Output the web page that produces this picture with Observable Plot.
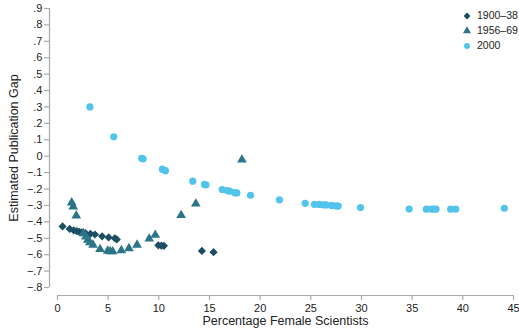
<!DOCTYPE html>
<html>
<head>
<meta charset="utf-8">
<script src="https://cdn.jsdelivr.net/npm/d3@7"></script>
<script src="https://cdn.jsdelivr.net/npm/@observablehq/plot@0.6"></script>
<style>
  html, body { margin: 0; padding: 0; background: #fff; }
  #wrap { position: relative; width: 519px; height: 333px; font-family: "Liberation Sans", Arial, sans-serif; overflow: hidden; }
  #legend { position: absolute; left: 462px; top: 8px; font-size: 10.5px; color: #222; line-height: 15px; white-space: nowrap; }
  #legend div { display: flex; align-items: center; height: 15px; }
  #legend svg { margin-right: 5px; flex: none; }
</style>
</head>
<body>
<div id="wrap"><div id="legend"></div></div>
<script>
// Series names
const seriesNames = ["1900–38", "1956–69", "2000"];

// 1900–38 (diamonds): [percentage female, estimated gap]
const s1900 = [
  [0.5,-0.428],[1.2,-0.443],[1.6,-0.452],[1.9,-0.457],[2.15,-0.461],[2.4,-0.464],
  [2.75,-0.468],[3.25,-0.473],[3.7,-0.477],[4.4,-0.488],[5.05,-0.495],[5.65,-0.5],
  [5.85,-0.507],[9.95,-0.543],[10.25,-0.545],[10.5,-0.546],[14.25,-0.577],[15.4,-0.585]
];

// 1956–69 (triangles)
const s1956 = [
  [1.4,-0.283],[1.55,-0.308],[1.85,-0.362],[2.55,-0.47],[2.8,-0.49],[3.0,-0.51],
  [3.2,-0.525],[3.5,-0.54],[4.2,-0.567],[4.95,-0.577],[5.2,-0.58],[5.45,-0.581],
  [6.3,-0.574],[7.05,-0.562],[7.85,-0.54],[9.05,-0.503],[9.65,-0.48],[12.2,-0.36],
  [13.65,-0.29],[18.2,-0.022]
];

// 2000 (circles)
const s2000 = [
  [3.2,0.30],[5.55,0.118],[8.3,-0.013],[8.45,-0.016],[10.35,-0.079],[10.65,-0.088],
  [13.35,-0.152],[14.5,-0.172],[14.65,-0.175],[16.25,-0.203],[16.75,-0.209],[17.0,-0.213],
  [17.5,-0.222],[17.7,-0.224],[19.05,-0.238],[21.9,-0.266],[24.45,-0.287],[25.35,-0.293],
  [25.85,-0.294],[26.25,-0.296],[26.5,-0.297],[27.05,-0.300],[27.5,-0.303],[27.7,-0.304],
  [29.9,-0.313],[34.7,-0.322],[36.4,-0.323],[36.9,-0.323],[37.15,-0.323],[37.35,-0.323],
  [38.8,-0.323],[39.3,-0.323],[44.1,-0.317]
];

// Tick values
const xTicks = [0,5,10,15,20,25,30,35,40,45];
const yTicks = [-0.8,-0.7,-0.6,-0.5,-0.4,-0.3,-0.2,-0.1,0,0.1,0.2,0.3,0.4,0.5,0.6,0.7,0.8,0.9];

const colors = ["#1d4f63", "#2b7588", "#52c4ec"];
const symbols = ["diamond2", "triangle", "circle"];
const radii = [3.7, 3.6, 3.6];

const yFmt = d => {
  if (Math.abs(d) < 1e-9) return "0";
  const s = d3.format(".1f")(d);
  return s.replace("0.", ".");
};

const toObj = (arr, i) => arr.map(([x, y]) => ({x, y, s: seriesNames[i]}));
const sets = [toObj(s1900, 0), toObj(s1956, 1), toObj(s2000, 2)];

const axisColor = "#aaaaaa";

const chart = Plot.plot({
  width: 519,
  height: 333,
  marginLeft: 57,
  marginRight: 6,
  marginTop: 8,
  marginBottom: 46,
  style: {fontFamily: "'Liberation Sans', Arial, sans-serif", fontSize: "11px", color: "#222", background: "#fff"},
  x: {domain: [0, 45]},
  y: {domain: [-0.8, 0.9]},
  marks: [
    Plot.ruleX([0], {y1: -0.8, y2: 0.9, dx: -8, stroke: axisColor, strokeWidth: 1.2}),
    Plot.ruleY([-0.8], {x1: 0, x2: 45, dy: 8, stroke: axisColor, strokeWidth: 1.2}),
    Plot.axisY({ticks: yTicks, tickFormat: yFmt, tickSize: 5, tickPadding: 2, dx: -8, stroke: axisColor, strokeWidth: 1.2, fill: "#222", label: null, fontSize: 11}),
    Plot.axisX({ticks: xTicks, tickSize: 5, tickPadding: 4, dy: 8, stroke: axisColor, strokeWidth: 1.2, fill: "#222", label: null, fontSize: 11}),
    Plot.text(["Estimated Publication Gap"], {frameAnchor: "left", textAnchor: "middle", rotate: -90, dx: -44, fontSize: 12.5, fill: "#222"}),
    Plot.text(["Percentage Female Scientists"], {frameAnchor: "bottom", dy: 37, fontSize: 12.5, fill: "#222"}),
    ...sets.map((data, i) => Plot.dot(data, {x: "x", y: "y", symbol: () => symbols[i], r: radii[i], fill: colors[i], stroke: "none"}))
  ]
});

const wrap = document.getElementById("wrap");
wrap.insertBefore(chart, wrap.firstChild);

// Legend
const legend = document.getElementById("legend");
seriesNames.forEach((name, i) => {
  const row = document.createElement("div");
  const sz = 10;
  const svg = d3.create("svg").attr("width", sz).attr("height", sz);
  const symMap = {diamond2: d3.symbolDiamond2, triangle: d3.symbolTriangle, circle: d3.symbolCircle};
  svg.append("path")
    .attr("transform", `translate(${sz/2},${sz/2})`)
    .attr("d", d3.symbol(symMap[symbols[i]], Math.PI * radii[i] * radii[i] * 0.7)())
    .attr("fill", colors[i]);
  row.appendChild(svg.node());
  const span = document.createElement("span");
  span.textContent = name;
  row.appendChild(span);
  legend.appendChild(row);
});
</script>
</body>
</html>
